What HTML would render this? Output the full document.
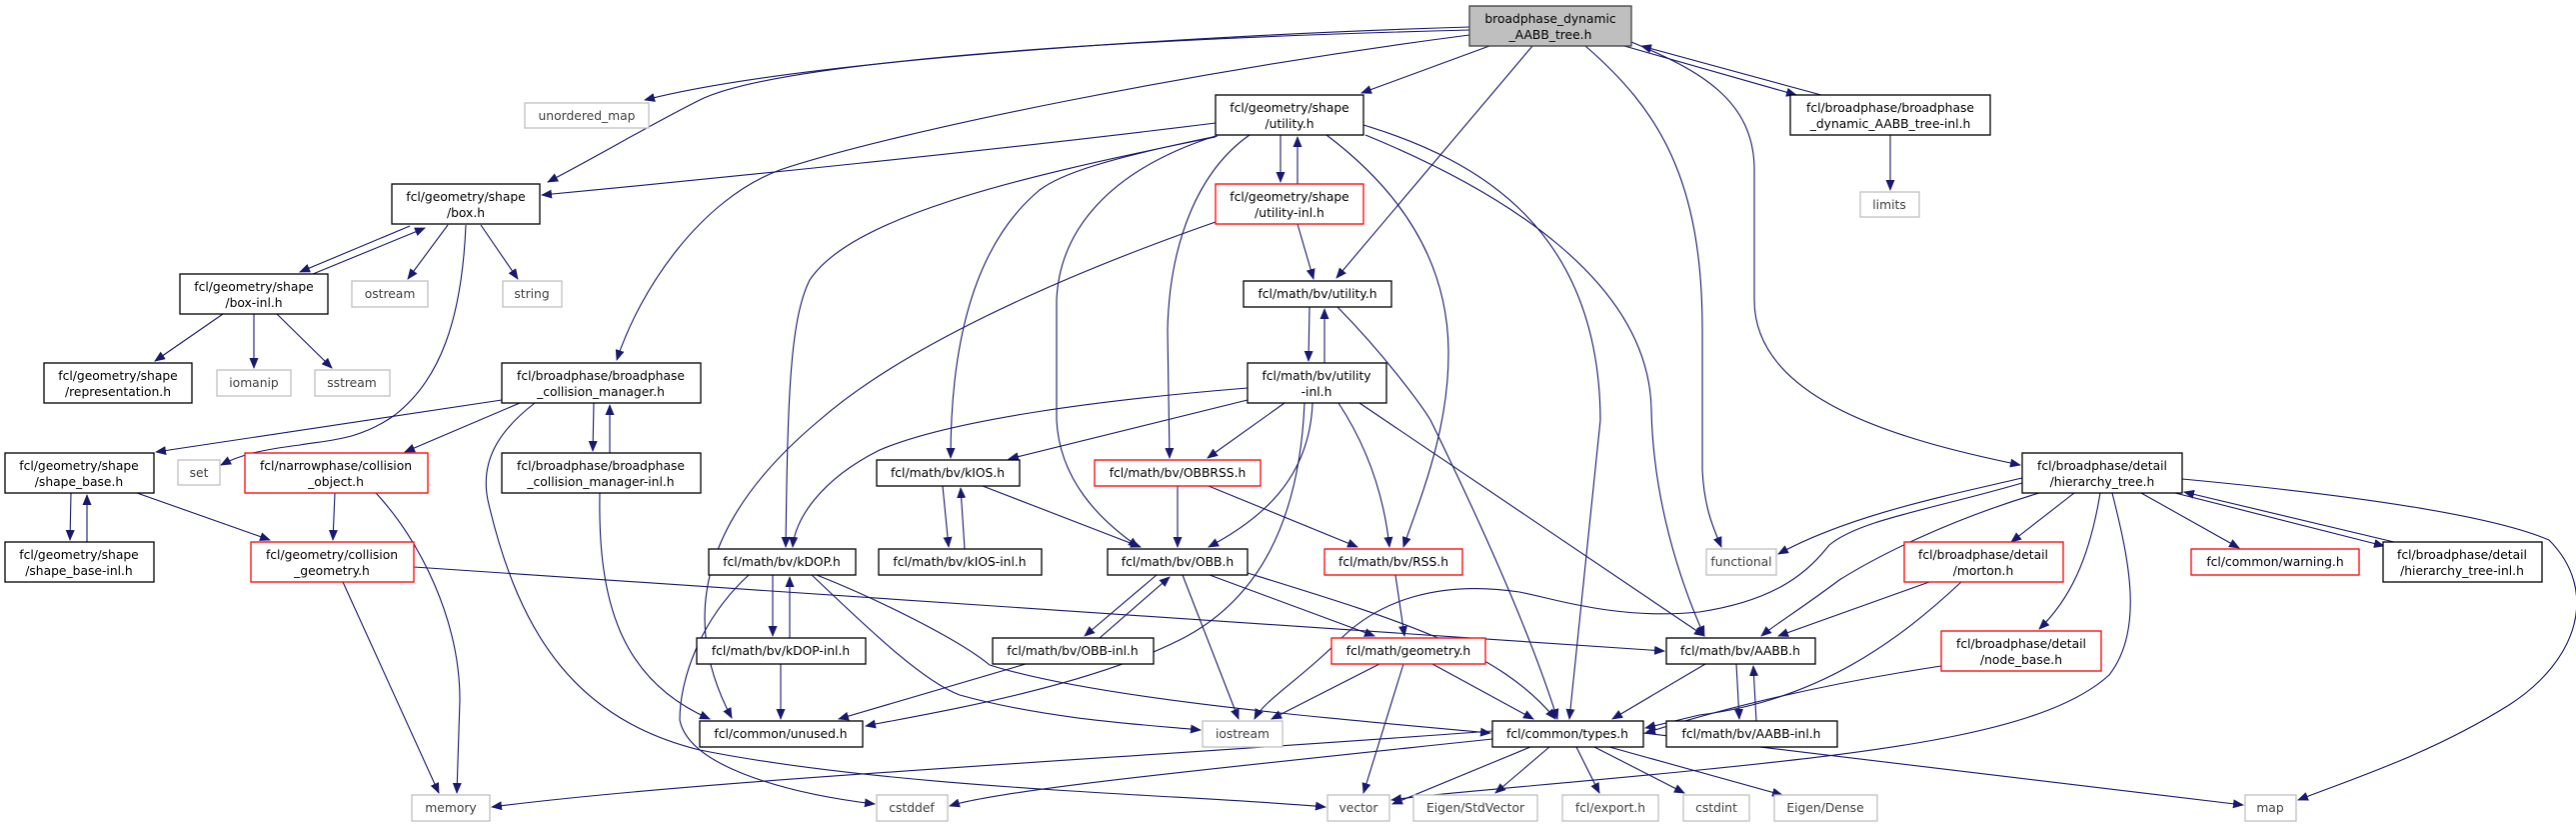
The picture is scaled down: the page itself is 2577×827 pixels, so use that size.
<!DOCTYPE html>
<html><head><meta charset="utf-8"><style>
html,body{margin:0;padding:0;background:#fff;}
svg{display:block;}
text{font-family:"DejaVu Sans","Liberation Sans",sans-serif;font-size:12.3px;fill:#000;text-anchor:middle;}
.n rect{fill:#fff;stroke:#000;stroke-width:1.3;}
.r rect{fill:#fff;stroke:#f00;stroke-width:1.3;}
.s rect{fill:#fff;stroke:#bfbfbf;stroke-width:1.3;}
.g rect{fill:#bfbfbf;stroke:#404040;stroke-width:1.3;}
.s text{fill:#404040;}
path.e{fill:none;stroke:#191970;stroke-width:1.1;marker-end:url(#a);}
</style></head><body>
<svg width="2577" height="827" viewBox="0 0 2577 827" xmlns="http://www.w3.org/2000/svg">
<defs><marker id="a" markerWidth="11" markerHeight="9" refX="10" refY="4.5" orient="auto" markerUnits="userSpaceOnUse"><path d="M0,0 L11,4.5 L0,9z" fill="#191970"/></marker></defs>

<!-- edges -->
<path class="e" d="M1470,27 C1200,35 800,60 645,100"/>
<path class="e" d="M1470,30 C1000,42 760,70 700,100 C650,125 600,155 548,182"/>
<path class="e" d="M1470,35 C1200,70 900,130 780,170 C700,200 640,290 617,360"/>
<path class="e" d="M1490,46 L1362,93"/>
<path class="e" d="M1533,46 L1337,278"/>
<path class="e" d="M1586,46 C1660,110 1703,180 1703,330 L1703,470 C1705,510 1715,530 1722,547"/>
<path class="e" d="M1625,46 L1797,95"/>
<path class="e" d="M1822,95 L1642,46"/>
<path class="e" d="M1632,42 C1700,70 1755,100 1755,170 L1755,300 C1755,400 1900,440 2021,465"/>
<path class="e" d="M1891,135 L1891,190"/>

<path class="e" d="M1216,123 C1000,150 700,180 542,195"/>
<path class="e" d="M1281,135 L1281,182"/>
<path class="e" d="M1298,184 L1298,137"/>
<path class="e" d="M1216,137 C1000,180 850,220 810,280 C790,320 788,400 786,547"/>
<path class="e" d="M1218,136 C1100,160 1060,175 1040,190 C980,240 951,330 951,458"/>
<path class="e" d="M1216,136 C1110,170 1060,230 1057,300 L1057,420 C1060,480 1100,520 1139,547"/>
<path class="e" d="M1250,135 C1200,170 1170,240 1168,330 L1170,458"/>
<path class="e" d="M1327,135 C1400,190 1448,260 1449,350 C1450,430 1420,500 1404,547"/>
<path class="e" d="M1366,135 C1500,190 1650,280 1652,410 C1654,500 1680,580 1705,636"/>
<path class="e" d="M1364,125 C1480,160 1600,230 1601,420 L1570,719"/>

<path class="e" d="M1298,224 L1314,279"/>
<path class="e" d="M1216,222 C1050,280 900,350 820,420 C700,520 680,620 732,718"/>
<path class="e" d="M1310,307 L1309,361"/>
<path class="e" d="M1325,363 L1325,309"/>
<path class="e" d="M1338,307 C1390,360 1425,410 1431,420 C1480,520 1530,630 1558,719"/>

<path class="e" d="M1248,388 C1100,400 950,420 880,450 C820,480 795,520 793,547"/>
<path class="e" d="M1248,400 L1009,459"/>
<path class="e" d="M1285,403 L1208,458"/>
<path class="e" d="M1313,403 C1310,480 1260,520 1209,547"/>
<path class="e" d="M1339,403 C1370,450 1385,500 1390,547"/>
<path class="e" d="M1360,403 L1705,636"/>
<path class="e" d="M1305,403 C1300,520 1260,600 1180,640 C1080,690 920,715 866,726"/>

<path class="e" d="M943,486 L949,547"/>
<path class="e" d="M965,549 L961,488"/>
<path class="e" d="M983,486 L1141,547"/>
<path class="e" d="M1178,486 L1178,547"/>
<path class="e" d="M1209,486 L1358,547"/>
<path class="e" d="M1157,575 L1085,636"/>
<path class="e" d="M1100,638 L1170,577"/>
<path class="e" d="M1183,575 L1239,719"/>
<path class="e" d="M1210,575 L1375,636"/>
<path class="e" d="M1248,573 C1400,620 1500,650 1556,719"/>
<path class="e" d="M1396,575 L1405,636"/>
<path class="e" d="M1380,664 L1272,719"/>
<path class="e" d="M1404,664 L1364,793"/>
<path class="e" d="M1433,664 L1534,719"/>
<path class="e" d="M1026,664 L839,719"/>

<path class="e" d="M773,575 L773,636"/>
<path class="e" d="M790,638 L790,577"/>
<path class="e" d="M781,664 L781,719"/>
<path class="e" d="M749,575 C700,620 680,680 680,720 C690,770 800,795 875,804"/>
<path class="e" d="M812,575 C860,620 920,680 960,695 C1050,720 1150,725 1201,730"/>
<path class="e" d="M817,575 C880,600 960,640 990,665 C1100,700 1350,720 1491,733"/>

<path class="e" d="M414,567 L1665,651"/>
<path class="e" d="M343,582 L439,793"/>
<path class="e" d="M335,493 L333,540"/>
<path class="e" d="M376,493 C420,540 460,620 460,700 L457,793"/>
<path class="e" d="M71,493 L70,540"/>
<path class="e" d="M87,542 L87,495"/>
<path class="e" d="M137,493 L270,540"/>
<path class="e" d="M502,400 L156,452"/>
<path class="e" d="M520,403 L405,452"/>
<path class="e" d="M594,403 L593,451"/>
<path class="e" d="M610,453 L610,405"/>
<path class="e" d="M535,403 C500,430 480,460 488,500 C520,640 580,720 700,750 C900,790 1200,795 1326,807"/>
<path class="e" d="M600,493 C598,600 620,680 710,719"/>
<path class="e" d="M410,226 L300,272"/>
<path class="e" d="M313,274 L425,228"/>
<path class="e" d="M448,225 L408,279"/>
<path class="e" d="M481,225 L518,279"/>
<path class="e" d="M466,225 C462,320 440,380 395,415 C360,440 330,440 300,445 C260,450 240,455 221,465"/>
<path class="e" d="M223,314 L155,361"/>
<path class="e" d="M254,314 L254,368"/>
<path class="e" d="M277,314 L332,368"/>

<path class="e" d="M1493,731 C1100,760 700,780 492,807"/>
<path class="e" d="M1493,739 C1200,770 1000,790 950,806"/>
<path class="e" d="M1531,747 L1393,804"/>
<path class="e" d="M1550,747 L1496,793"/>
<path class="e" d="M1577,747 L1600,793"/>
<path class="e" d="M1595,747 L1685,793"/>
<path class="e" d="M1610,747 L1783,795"/>
<path class="e" d="M1644,733 L2244,805"/>
<path class="e" d="M1706,664 L1613,719"/>
<path class="e" d="M1737,664 L1740,719"/>
<path class="e" d="M1757,721 L1754,666"/>

<path class="e" d="M2023,478 C1950,495 1850,515 1779,554"/>
<path class="e" d="M2023,483 C1930,510 1860,520 1830,545 C1810,570 1780,600 1700,612 C1620,620 1560,600 1520,592 C1440,580 1380,600 1340,640 C1300,680 1265,700 1255,719"/>
<path class="e" d="M2040,493 C1950,520 1880,555 1840,580 C1800,610 1775,625 1762,636"/>
<path class="e" d="M1930,582 L1779,636"/>
<path class="e" d="M1962,582 C1900,640 1820,700 1700,715 L1646,728"/>
<path class="e" d="M1942,666 C1850,680 1750,700 1646,733"/>
<path class="e" d="M2075,493 L2012,542"/>
<path class="e" d="M2101,493 C2090,560 2070,600 2040,629"/>
<path class="e" d="M2142,493 L2240,548"/>
<path class="e" d="M2176,493 L2385,546"/>
<path class="e" d="M2395,542 L2185,492"/>
<path class="e" d="M2183,479 C2300,490 2480,510 2550,540 C2600,590 2580,660 2510,705 C2430,755 2350,780 2299,800"/>
<path class="e" d="M2113,493 C2130,560 2145,630 2110,675 C2050,730 1900,750 1700,770 C1550,785 1450,792 1392,800"/>

<!-- nodes -->
<g class="g"><rect x="1470" y="6" width="162" height="40"/><text x="1551" y="23">broadphase_dynamic</text><text x="1551" y="39">_AABB_tree.h</text></g>
<g class="s"><rect x="525" y="103" width="124" height="25"/><text x="587" y="120">unordered_map</text></g>
<g class="n"><rect x="392" y="184" width="148" height="40"/><text x="466" y="201">fcl/geometry/shape</text><text x="466" y="217">/box.h</text></g>
<g class="n"><rect x="180" y="274" width="148" height="40"/><text x="254" y="291">fcl/geometry/shape</text><text x="254" y="307">/box-inl.h</text></g>
<g class="s"><rect x="352" y="281" width="76" height="26"/><text x="390" y="298">ostream</text></g>
<g class="s"><rect x="503" y="281" width="59" height="26"/><text x="532" y="298">string</text></g>
<g class="n"><rect x="44" y="363" width="148" height="40"/><text x="118" y="380">fcl/geometry/shape</text><text x="118" y="396">/representation.h</text></g>
<g class="s"><rect x="217" y="370" width="74" height="26"/><text x="254" y="387">iomanip</text></g>
<g class="s"><rect x="315" y="370" width="75" height="26"/><text x="352" y="387">sstream</text></g>
<g class="n"><rect x="502" y="363" width="199" height="40"/><text x="601" y="380">fcl/broadphase/broadphase</text><text x="601" y="396">_collision_manager.h</text></g>
<g class="n"><rect x="5" y="453" width="149" height="40"/><text x="79" y="470">fcl/geometry/shape</text><text x="79" y="486">/shape_base.h</text></g>
<g class="s"><rect x="178" y="460" width="42" height="25"/><text x="199" y="477">set</text></g>
<g class="r"><rect x="245" y="453" width="183" height="40"/><text x="336" y="470">fcl/narrowphase/collision</text><text x="336" y="486">_object.h</text></g>
<g class="n"><rect x="502" y="453" width="199" height="40"/><text x="601" y="470">fcl/broadphase/broadphase</text><text x="601" y="486">_collision_manager-inl.h</text></g>
<g class="n"><rect x="5" y="542" width="149" height="40"/><text x="79" y="559">fcl/geometry/shape</text><text x="79" y="575">/shape_base-inl.h</text></g>
<g class="r"><rect x="251" y="542" width="163" height="40"/><text x="332" y="559">fcl/geometry/collision</text><text x="332" y="575">_geometry.h</text></g>
<g class="n"><rect x="709" y="549" width="147" height="26"/><text x="782" y="566">fcl/math/bv/kDOP.h</text></g>
<g class="n"><rect x="697" y="638" width="169" height="26"/><text x="781" y="655">fcl/math/bv/kDOP-inl.h</text></g>
<g class="n"><rect x="700" y="721" width="163" height="26"/><text x="781" y="738">fcl/common/unused.h</text></g>
<g class="s"><rect x="412" y="795" width="78" height="26"/><text x="451" y="812">memory</text></g>
<g class="n"><rect x="1216" y="95" width="148" height="40"/><text x="1290" y="112">fcl/geometry/shape</text><text x="1290" y="128">/utility.h</text></g>
<g class="r"><rect x="1216" y="184" width="148" height="40"/><text x="1290" y="201">fcl/geometry/shape</text><text x="1290" y="217">/utility-inl.h</text></g>
<g class="n"><rect x="1244" y="281" width="148" height="26"/><text x="1318" y="298">fcl/math/bv/utility.h</text></g>
<g class="n"><rect x="1248" y="363" width="139" height="40"/><text x="1317" y="380">fcl/math/bv/utility</text><text x="1317" y="396">-inl.h</text></g>
<g class="n"><rect x="877" y="460" width="143" height="26"/><text x="948" y="477">fcl/math/bv/kIOS.h</text></g>
<g class="r"><rect x="1095" y="460" width="166" height="26"/><text x="1178" y="477">fcl/math/bv/OBBRSS.h</text></g>
<g class="n"><rect x="879" y="549" width="163" height="26"/><text x="960" y="566">fcl/math/bv/kIOS-inl.h</text></g>
<g class="n"><rect x="1108" y="549" width="140" height="26"/><text x="1178" y="566">fcl/math/bv/OBB.h</text></g>
<g class="r"><rect x="1325" y="549" width="138" height="26"/><text x="1394" y="566">fcl/math/bv/RSS.h</text></g>
<g class="n"><rect x="993" y="638" width="161" height="26"/><text x="1073" y="655">fcl/math/bv/OBB-inl.h</text></g>
<g class="r"><rect x="1332" y="638" width="154" height="26"/><text x="1409" y="655">fcl/math/geometry.h</text></g>
<g class="s"><rect x="1203" y="721" width="80" height="26"/><text x="1243" y="738">iostream</text></g>
<g class="n"><rect x="1493" y="721" width="151" height="26"/><text x="1568" y="738">fcl/common/types.h</text></g>
<g class="s"><rect x="877" y="795" width="71" height="26"/><text x="912" y="812">cstddef</text></g>
<g class="s"><rect x="1328" y="795" width="62" height="26"/><text x="1359" y="812">vector</text></g>
<g class="s"><rect x="1414" y="795" width="124" height="26"/><text x="1476" y="812">Eigen/StdVector</text></g>
<g class="s"><rect x="1563" y="795" width="96" height="26"/><text x="1611" y="812">fcl/export.h</text></g>
<g class="s"><rect x="1684" y="795" width="66" height="26"/><text x="1717" y="812">cstdint</text></g>
<g class="s"><rect x="1775" y="795" width="103" height="26"/><text x="1826" y="812">Eigen/Dense</text></g>
<g class="s"><rect x="2246" y="795" width="51" height="26"/><text x="2271" y="812">map</text></g>
<g class="n"><rect x="1791" y="95" width="200" height="40"/><text x="1891" y="112">fcl/broadphase/broadphase</text><text x="1891" y="128">_dynamic_AABB_tree-inl.h</text></g>
<g class="s"><rect x="1861" y="192" width="59" height="25"/><text x="1890" y="209">limits</text></g>
<g class="n"><rect x="2023" y="453" width="160" height="40"/><text x="2103" y="470">fcl/broadphase/detail</text><text x="2103" y="486">/hierarchy_tree.h</text></g>
<g class="s"><rect x="1707" y="549" width="70" height="26"/><text x="1742" y="566">functional</text></g>
<g class="r"><rect x="1905" y="542" width="159" height="40"/><text x="1984" y="559">fcl/broadphase/detail</text><text x="1984" y="575">/morton.h</text></g>
<g class="r"><rect x="2192" y="549" width="168" height="26"/><text x="2276" y="566">fcl/common/warning.h</text></g>
<g class="n"><rect x="2384" y="542" width="159" height="40"/><text x="2463" y="559">fcl/broadphase/detail</text><text x="2463" y="575">/hierarchy_tree-inl.h</text></g>
<g class="n"><rect x="1667" y="638" width="149" height="26"/><text x="1741" y="655">fcl/math/bv/AABB.h</text></g>
<g class="r"><rect x="1942" y="631" width="160" height="40"/><text x="2022" y="648">fcl/broadphase/detail</text><text x="2022" y="664">/node_base.h</text></g>
<g class="n"><rect x="1667" y="721" width="171" height="26"/><text x="1752" y="738">fcl/math/bv/AABB-inl.h</text></g>
</svg>
</body></html>
